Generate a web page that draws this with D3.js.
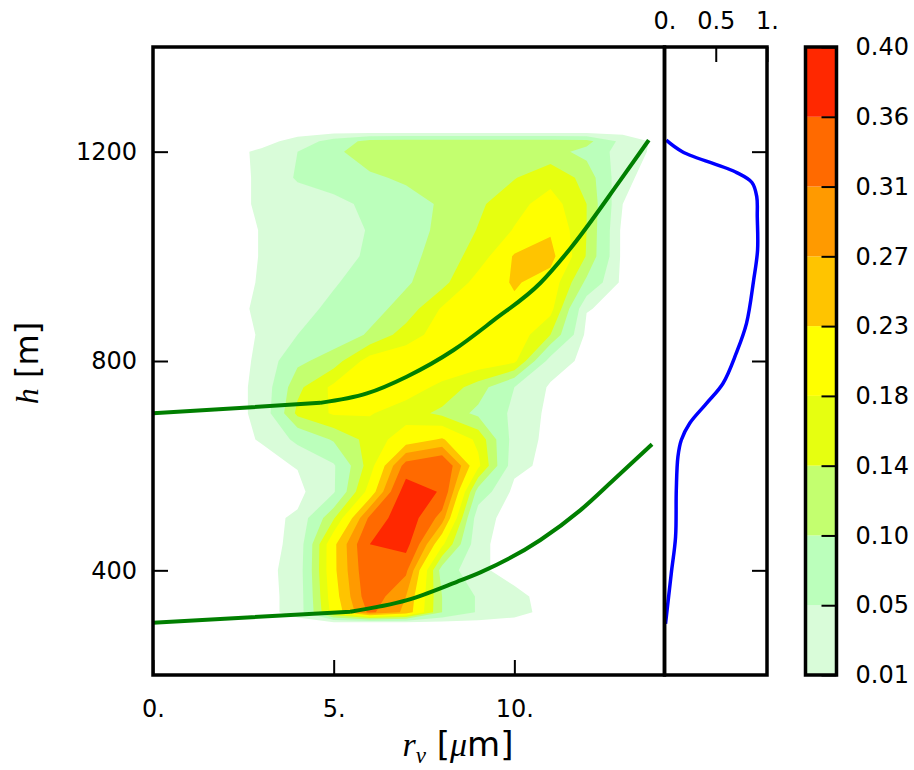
<!DOCTYPE html>
<html lang='en'>
<head>
  <meta charset='UTF-8'>
  <title>Radius distribution vs height</title>
  <style>
  body {
    margin: 0;
    background: white;
  }
  text {
    font-family: 'DejaVu Sans', sans-serif;
    fill: black;
  }
  .math {
    font-family: 'Liberation Serif', 'DejaVu Serif', serif;
    font-style: italic;
  }
  .frame {
    fill: none;
    stroke: black;
    stroke-width: 3.5;
  }
  </style>
  <script src='https://d3js.org/d3.v7.min.js'></script>
</head>
<body>
  <script>

  // grid of the distribution: columns are r_v (um), rows are h (m)
  var rCols = [2, 3, 4, 5, 6, 7, 8, 9, 10, 11, 12, 13, 14];
  var hRows = [300, 320, 350, 400, 450, 500, 550, 600, 650, 700, 750, 800,
               850, 900, 950, 1000, 1050, 1100, 1150, 1200, 1220, 1237];

  var density = [
    [0, 0, 0, 0, 0, 0, 0, 0, 0, 0, 0, 0, 0],
    [0, 0, 0.02, 0.2, 0.32, 0.26, 0.1, 0.045, 0.02, 0, 0, 0, 0],
    [0, 0, 0.02, 0.21, 0.34, 0.27, 0.1, 0.045, 0.017, 0, 0, 0, 0],
    [0, 0, 0.022, 0.22, 0.35, 0.32, 0.08, 0.015, 0, 0, 0, 0, 0],
    [0, 0, 0.017, 0.22, 0.36, 0.38, 0.19, 0.015, 0, 0, 0, 0, 0],
    [0, 0, 0.015, 0.135, 0.32, 0.398, 0.29, 0.02, 0, 0, 0, 0, 0],
    [0, 0, 0, 0.045, 0.2, 0.39, 0.355, 0.08, 0, 0, 0, 0, 0],
    [0, 0, 0.012, 0.045, 0.16, 0.33, 0.36, 0.19, 0.02, 0, 0, 0, 0],
    [0, 0.012, 0.06, 0.105, 0.155, 0.205, 0.235, 0.17, 0.03, 0, 0, 0, 0],
    [0, 0.016, 0.15, 0.185, 0.183, 0.16, 0.13, 0.09, 0.04, 0, 0, 0, 0],
    [0, 0.016, 0.13, 0.19, 0.21, 0.2, 0.17, 0.12, 0.05, 0.005, 0, 0, 0],
    [0, 0.014, 0.09, 0.12, 0.2, 0.21, 0.215, 0.21, 0.19, 0.03, 0, 0, 0],
    [0, 0.012, 0.05, 0.075, 0.105, 0.16, 0.2, 0.215, 0.21, 0.14, 0, 0, 0],
    [0, 0.015, 0.035, 0.06, 0.085, 0.115, 0.185, 0.215, 0.22, 0.195, 0.012, 0, 0],
    [0, 0.012, 0.03, 0.046, 0.07, 0.095, 0.125, 0.2, 0.235, 0.21, 0.09, 0, 0],
    [0, 0.011, 0.02, 0.03, 0.058, 0.085, 0.12, 0.155, 0.235, 0.245, 0.137, 0, 0],
    [0, 0.011, 0.02, 0.03, 0.053, 0.08, 0.11, 0.142, 0.183, 0.225, 0.14, 0, 0],
    [0, 0.014, 0.025, 0.035, 0.062, 0.08, 0.106, 0.133, 0.165, 0.2, 0.14, 0.01, 0],
    [0, 0.014, 0.055, 0.075, 0.092, 0.108, 0.115, 0.125, 0.138, 0.165, 0.128, 0.015, 0],
    [0, 0.015, 0.05, 0.09, 0.125, 0.125, 0.125, 0.125, 0.128, 0.118, 0.085, 0.03, 0],
    [0, 0, 0.02, 0.07, 0.115, 0.12, 0.12, 0.12, 0.12, 0.12, 0.115, 0.035, 0],
    [0, 0, 0, 0, 0, 0, 0, 0, 0, 0, 0, 0, 0]
  ];

  var levels = [0.01, 0.05, 0.10, 0.14, 0.18, 0.23, 0.27, 0.31, 0.36, 0.40];
  var levelLabels = ['0.01', '0.05', '0.10', '0.14', '0.18', '0.23', '0.27', '0.31', '0.36', '0.40'];
  var bandColors = ['#d9fcd9', '#bbffbb', '#c3ff6f', '#e6ff10', '#ffff00',
                    '#ffc400', '#ff9a00', '#ff6a00', '#ff2800'];

  // green reference curves [r_v, h]; first segment is straight up to the kink
  var upperCurve = [[0, 700], [4.63, 720], [5.92, 738], [7.02, 770], [8.32, 821],
                    [9.43, 878], [10.72, 949], [11.55, 1015], [12.94, 1146], [13.72, 1222]];
  var lowerCurve = [[0, 300], [5.46, 321], [7.03, 343], [8.41, 378], [9.06, 396],
                    [10.72, 458], [11.83, 515], [12.75, 573], [13.81, 641]];

  // side profile
  var profileH = [1222, 1200, 1160, 1141, 1114, 1076, 1012, 955, 872, 815, 757,
                  719, 681, 649, 617, 553, 464, 394, 298];
  var profileVal = [0.017, 0.174, 0.705, 0.853, 0.90, 0.905, 0.908, 0.87, 0.80, 0.70, 0.57,
                    0.41, 0.246, 0.164, 0.131, 0.115, 0.108, 0.066, 0.01];

  var hTicks = [400, 800, 1200];
  var rTicks = [0, 5, 10];
  var rTickLabels = ['0.', '5.', '10.'];
  var sideTicks = [0, 0.5, 1];
  var sideTickLabels = ['0.', '0.5', '1.'];

  var svg = d3.select('body').append('svg').attr('width', 914).attr('height', 770);

  var x = d3.scaleLinear().domain([0, 14.155]).range([153, 664.5]);
  var y = d3.scaleLinear().domain([200, 1400]).range([675, 47]);
  var xSide = d3.scaleLinear().domain([0, 1]).range([664.5, 767]);
  var yBar = d3.scaleLinear().domain([0, levels.length - 1]).range([675, 47]);

  // contour grid index -> data coordinates (sample i sits at i + 0.5)
  var gx = d3.scaleLinear().domain(rCols.map(function (d, i) { return i + 0.5; })).range(rCols);
  var gy = d3.scaleLinear().domain(hRows.map(function (d, i) { return i + 0.5; })).range(hRows);

  svg.append('clipPath').attr('id', 'main-clip')
    .append('rect')
    .attr('x', x(0)).attr('y', y(1400))
    .attr('width', x(14.155) - x(0)).attr('height', y(200) - y(1400));

  // filled contours

  var values = [];
  density.forEach(function (row) {
    row.forEach(function (v) { values.push(v); });
  });

  var bands = d3.contours()
    .size([rCols.length, hRows.length])
    .thresholds(levels.slice(0, levels.length - 1))(values);

  var project = d3.geoTransform({
    point: function (px, py) { this.stream.point(x(gx(px)), y(gy(py))); }
  });
  var path = d3.geoPath(project);

  svg.append('g')
    .attr('clip-path', 'url(#main-clip)')
    .selectAll('path')
    .data(bands)
    .enter()
    .append('path')
    .attr('d', path)
    .attr('fill', function (d, i) { return bandColors[i]; });

  // green curves

  var straight = d3.line()
    .x(function (d) { return x(d[0]); })
    .y(function (d) { return y(d[1]); });
  var bent = d3.line()
    .curve(d3.curveMonotoneX)
    .x(function (d) { return x(d[0]); })
    .y(function (d) { return y(d[1]); });

  [upperCurve, lowerCurve].forEach(function (c) {
    svg.append('path')
      .attr('d', straight(c.slice(0, 2)) + bent(c.slice(1)))
      .attr('fill', 'none')
      .attr('stroke', '#007f00')
      .attr('stroke-width', 4);
  });

  // side profile

  var profileLine = d3.line()
    .curve(d3.curveCatmullRom)
    .x(function (d) { return xSide(d[1]); })
    .y(function (d) { return y(d[0]); });

  svg.append('path')
    .attr('d', profileLine(d3.zip(profileH, profileVal)))
    .attr('fill', 'none')
    .attr('stroke', '#0000ff')
    .attr('stroke-width', 3.5);

  // axes

  function styleAxis(g) {
    g.select('.domain').remove();
    g.selectAll('line').attr('stroke', 'black').attr('stroke-width', 2);
    g.selectAll('text').attr('font-size', 24).attr('font-family', 'DejaVu Sans, sans-serif');
  }

  svg.append('g')
    .attr('transform', 'translate(' + x(0) + ',0)')
    .call(d3.axisLeft(y).tickValues(hTicks).tickSizeInner(-15).tickSizeOuter(0).tickPadding(16)
      .tickFormat(d3.format('d')))
    .call(styleAxis);

  svg.append('g')
    .attr('transform', 'translate(0,' + y(200) + ')')
    .call(d3.axisBottom(x).tickValues(rTicks).tickSizeInner(-15).tickSizeOuter(0).tickPadding(25)
      .tickFormat(function (d, i) { return rTickLabels[i]; }))
    .call(styleAxis);

  svg.append('g')
    .attr('transform', 'translate(' + xSide(1) + ',0)')
    .call(d3.axisRight(y).tickValues(hTicks).tickSizeInner(-15).tickSizeOuter(0).tickFormat(''))
    .call(styleAxis);

  svg.append('g')
    .attr('transform', 'translate(0,' + y(1400) + ')')
    .call(d3.axisTop(xSide).tickValues(sideTicks).tickSizeInner(-15).tickSizeOuter(0).tickPadding(18)
      .tickFormat(function (d, i) { return sideTickLabels[i]; }))
    .call(styleAxis);

  // frames

  svg.append('rect').attr('class', 'frame')
    .attr('x', x(0)).attr('y', y(1400))
    .attr('width', x(14.155) - x(0)).attr('height', y(200) - y(1400));

  svg.append('rect').attr('class', 'frame')
    .attr('x', xSide(0)).attr('y', y(1400))
    .attr('width', xSide(1) - xSide(0)).attr('height', y(200) - y(1400));

  // colorbar

  var bar = svg.append('g');
  var barLeft = 805.5, barRight = 836.5;

  bar.selectAll('rect')
    .data(bandColors)
    .enter()
    .append('rect')
    .attr('x', barLeft)
    .attr('y', function (d, i) { return yBar(i + 1); })
    .attr('width', barRight - barLeft)
    .attr('height', function (d, i) { return yBar(i) - yBar(i + 1); })
    .attr('fill', function (d) { return d; });

  svg.append('g')
    .attr('transform', 'translate(' + barRight + ',0)')
    .call(d3.axisRight(yBar).tickValues(d3.range(levels.length)).tickSizeInner(-15).tickSizeOuter(0).tickPadding(19)
      .tickFormat(function (d) { return levelLabels[d]; }))
    .call(styleAxis);

  bar.append('rect').attr('class', 'frame')
    .attr('x', barLeft).attr('y', yBar(levels.length - 1))
    .attr('width', barRight - barLeft).attr('height', yBar(0) - yBar(levels.length - 1));

  // axis labels

  var xl = svg.append('text')
    .attr('x', 458).attr('y', 756)
    .attr('text-anchor', 'middle')
    .attr('font-size', 34);
  xl.append('tspan').attr('class', 'math').text('r');
  xl.append('tspan').attr('class', 'math').attr('font-size', 23).attr('dy', 7).text('v');
  xl.append('tspan').attr('dy', -7).text('\u00a0[');
  xl.append('tspan').attr('class', 'math').text('\u03bc');
  xl.append('tspan').text('m]');

  var yl = svg.append('text')
    .attr('transform', 'translate(38,363) rotate(-90)')
    .attr('text-anchor', 'middle')
    .attr('font-size', 32);
  yl.append('tspan').attr('class', 'math').text('h');
  yl.append('tspan').text('\u00a0[m]');
  </script>
</body>
</html>
